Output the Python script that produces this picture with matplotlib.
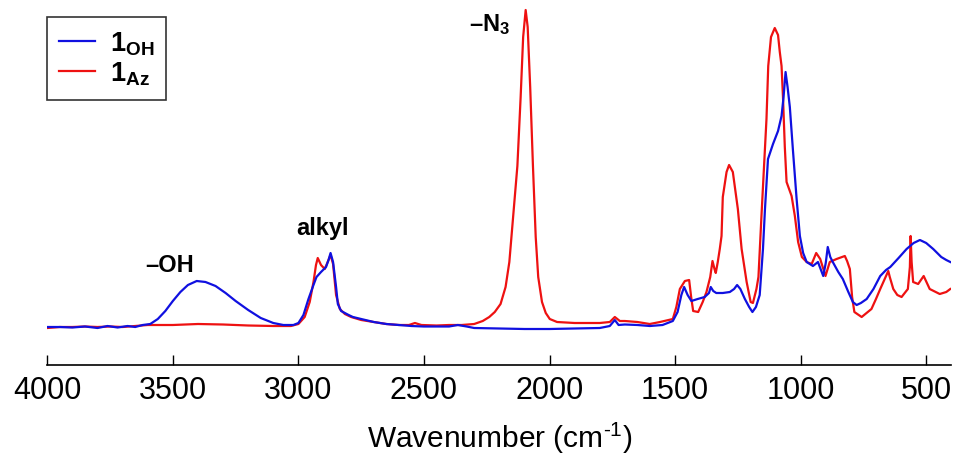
import matplotlib
matplotlib.use("Agg")
import matplotlib.pyplot as plt

plt.rcParams["font.family"] = ["Liberation Sans", "DejaVu Sans"]
plt.rcParams["mathtext.fontset"] = "custom"
plt.rcParams["mathtext.rm"] = "Liberation Sans"
plt.rcParams["mathtext.bf"] = "Liberation Sans:bold"

# 1OH spectrum (wavenumber, arbitrary intensity)
wn_oh = [4000, 3950, 3900, 3850, 3800, 3760, 3720, 3680, 3650, 3620, 3590, 3560, 3530, 3500,
         3470, 3440, 3405, 3370, 3330, 3290, 3250, 3200, 3150, 3100, 3060, 3020, 3000, 2980,
         2960, 2940, 2928, 2910, 2890, 2880, 2872, 2862, 2850, 2843, 2830, 2800, 2783, 2750,
         2700, 2650, 2600, 2550, 2500, 2400, 2365, 2330, 2300, 2200, 2100, 2000, 1900, 1800,
         1760, 1740, 1725, 1700, 1650, 1600, 1550, 1509, 1490, 1475, 1464, 1450, 1435, 1410,
         1382, 1365, 1358, 1348, 1336, 1310, 1282, 1265, 1253, 1240, 1222, 1205, 1192, 1178,
         1163, 1150, 1142, 1130, 1110, 1090, 1076, 1068, 1060, 1052, 1043, 1031, 1016, 1003,
         990, 976, 951, 931, 910, 900, 892, 882, 872, 850, 832, 810, 792, 777, 760, 737, 710,
         683, 660, 643, 610, 578, 550, 525, 500, 472, 440, 420, 404]
ab_oh = [30, 30, 29.5, 30.5, 29, 31, 29.5, 31, 30, 32, 33, 38, 46, 56,
         65, 72, 76, 75, 71, 64, 56, 47, 39, 34, 32, 32, 34, 42,
         58, 72, 80, 85, 90, 97, 104, 95, 70, 53, 46, 42, 40, 38,
         35, 33, 32, 31, 30.5, 30.5, 32, 30.5, 29, 28.5, 28, 28, 28.5, 29,
         31, 37, 32, 32.5, 32, 31, 32, 36, 45, 62, 70, 62, 56, 58,
         60, 64, 70, 66, 64, 64, 65, 68, 72, 68, 58, 50, 45, 50,
         62, 108, 148, 198, 213, 226, 241, 260, 285, 270, 250, 208, 158, 121,
         104, 95, 91, 95, 81, 94, 110, 100, 95, 85, 78, 65, 55, 52, 54, 58, 68,
         81, 87, 90, 99, 108, 114, 117, 114, 108, 100, 97, 95]

# 1Az spectrum
wn_az = [4000, 3950, 3900, 3850, 3800, 3750, 3700, 3650, 3600, 3500, 3400, 3300, 3200, 3100,
         3030, 3000, 2975, 2955, 2940, 2930, 2923, 2910, 2895, 2885, 2872, 2862, 2850, 2835,
         2815, 2790, 2750, 2700, 2650, 2600, 2560, 2536, 2510, 2450, 2400, 2350, 2300, 2266,
         2240, 2218, 2195, 2175, 2160, 2145, 2128, 2115, 2105, 2095, 2087, 2077, 2066, 2055,
         2045, 2030, 2015, 1999, 1970, 1900, 1800, 1760, 1740, 1720, 1700, 1650, 1601, 1560,
         1509, 1495, 1481, 1461, 1444, 1436, 1428, 1408, 1390, 1375, 1360, 1351, 1343, 1338,
         1330, 1322, 1315, 1310, 1295, 1285, 1270, 1250, 1235, 1215, 1199, 1190, 1176, 1168,
         1156, 1142, 1136, 1129, 1118, 1103, 1090, 1083, 1076, 1070, 1063, 1056, 1036, 1023,
         1010, 995, 976, 956, 938, 922, 901, 884, 857, 824, 815, 804, 795, 786, 757, 718, 700,
         683, 651, 645, 631, 615, 598, 573, 565, 562, 558, 552, 532, 510, 486, 446, 420, 404]
ab_az = [29, 30, 30, 30.5, 30, 30.5, 30, 31, 32, 32, 33, 32.5, 31.5, 31,
         31, 33, 40, 55, 75, 92, 99, 92, 88, 94, 102, 93, 62, 48,
         43, 40, 37, 35, 33, 32, 32, 34, 32, 31.5, 32, 32, 33, 36,
         40, 45, 53, 70, 95, 140, 191, 260, 320, 347, 330, 270, 191, 120,
         80, 55, 44, 38, 35, 34, 34, 35, 40, 36, 36, 35, 33, 35,
         38, 50, 68, 76, 77, 60, 46, 45, 55, 65, 80, 96, 88, 84,
         95, 108, 121, 160, 185, 192, 185, 148, 108, 75, 55, 54, 68, 80,
         141, 208, 238, 291, 320, 329, 322, 305, 291, 258, 210, 175, 161, 141,
         115, 100, 95, 93, 104, 98, 81, 95, 98, 101, 96, 88, 60, 45, 40, 48, 58,
         68, 86, 80, 68, 62, 60, 68, 90, 121, 95, 75, 73, 81, 68, 63, 65, 68]

ticks = [4000, 3500, 3000, 2500, 2000, 1500, 1000, 500]

fig = plt.figure(figsize=(9.55, 4.56), dpi=100)
ax = fig.add_axes([47.3 / 955, 90 / 456, 904 / 955, 366 / 456])

ax.plot(wn_az, ab_az, color="#ee1111", lw=1.6, label=r"$\mathbf{1}_{\mathbf{Az}}$")
ax.plot(wn_oh, ab_oh, color="#1010e0", lw=1.6, label=r"$\mathbf{1}_{\mathbf{OH}}$")

ax.set_xlim(4000, 400)
ax.set_ylim(-8, 358)

for s in ["left", "right", "top"]:
    ax.spines[s].set_visible(False)
ax.spines["bottom"].set_linewidth(1.2)
ax.set_yticks([])
ax.set_xticks(ticks)
ax.tick_params(axis="x", direction="in", length=7, width=1.0, labelsize=22, pad=7)
ax.set_xlabel("Wavenumber (cm$^{\u2010 1}$)", fontsize=21.5, labelpad=10)

ax.text(3511, 93, "–OH", fontsize=17, fontweight="bold", ha="center", va="center")
ax.text(2903, 130, "alkyl", fontsize=17, fontweight="bold", ha="center", va="center")
ax.text(2238, 333, r"$\mathbf{–N_3}$", fontsize=17, ha="center", va="center")

h, l = ax.get_legend_handles_labels()
leg = ax.legend(h[::-1], l[::-1], loc="upper left", bbox_to_anchor=(0.0, 0.951),
                borderaxespad=0, fontsize=19.5, fancybox=False, edgecolor="black",
                handlelength=1.3, handletextpad=0.55, labelspacing=0.12, borderpad=0.45)
leg.get_frame().set_linewidth(1.2)

fig.savefig("out.png", dpi=100)
